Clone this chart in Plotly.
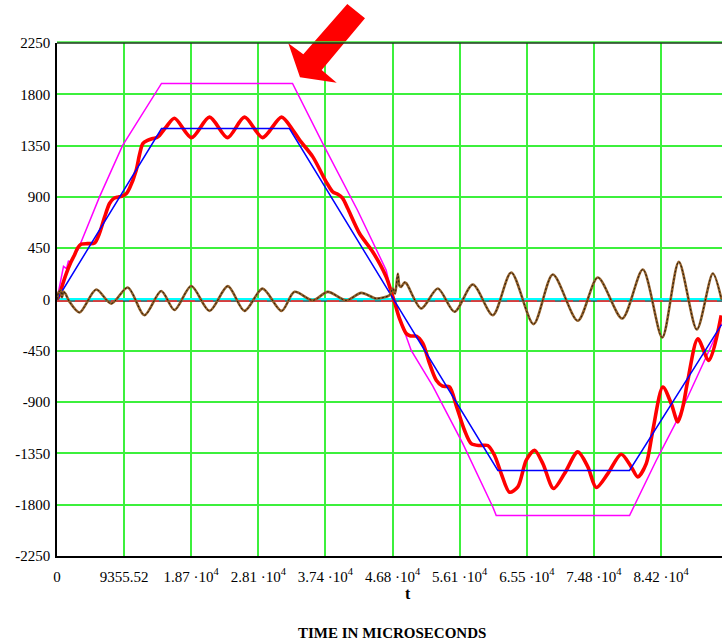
import plotly.graph_objects as go

# Time in microseconds; speed in rpm.

# Reference speed profile (trapezoid)
ref_t = [0, 14570, 32400, 61450, 79800, 92625]
ref_speed = [0, 1500, 1500, -1500, -1500, -220]

# Command signal (scaled trapezoid)
cmd_t = [0, 585, 906, 1324, 1603, 1882, 2202, 2899, 5924, 9130, 14566,
         32826, 34736, 37050, 41887, 44953, 45887, 46835, 49372, 52383,
         54711, 56565, 60747, 61221, 79801, 83523, 86311, 92458, 92625]
cmd_value = [0, 212, 290, 270, 340, 320, 373, 432, 900, 1350, 1895,
             1895, 1658, 1367, 783, 386, 257, 0, -447, -760,
             -1045, -1264, -1820, -1895, -1895, -1412, -1074, -243, -210]

# Measured motor speed
motor_t = [0, 350, 770, 1280, 1880, 2440, 2860, 3370, 4250, 5230, 5920,
           6620, 7320, 7880, 8470, 8990, 9650, 10110, 11040, 11500, 11960,
           12620, 13350, 13870, 14290, 15220, 16380, 18750, 21260, 23770,
           26140, 28650, 31290, 32870, 33800, 35660, 37520, 38440, 39140,
           39800, 40530, 42170, 44020, 45890, 46810, 47040, 47740, 48680,
           49280, 50070, 50990, 51920, 52860, 53740, 54710, 55640, 56800,
           57740, 58890, 60050, 60980, 61920, 63070, 64230, 65400, 66560,
           67720, 69210, 70740, 72590, 73990, 75160, 76780, 78640, 80040,
           80960, 82130, 83050, 84440, 85610, 86530, 87230, 87930, 89320,
           90860, 92580]
motor_speed = [0, 40, 130, 225, 320, 390, 450, 485, 490, 495, 580,
               720, 842, 885, 898, 905, 928, 976, 1134, 1270, 1368,
               1395, 1412, 1420, 1440, 1514, 1590, 1420, 1600, 1420,
               1600, 1420, 1600, 1486, 1400, 1251, 1032, 944, 923,
               890, 798, 579, 417, 198, 23, -21, -167, -299,
               -320, -322, -386, -561, -708, -760, -767, -928, -1147,
               -1264, -1281, -1281, -1366, -1527, -1690, -1644, -1410, -1322,
               -1439, -1658, -1527, -1337, -1468, -1649, -1527, -1357, -1468,
               -1556, -1439, -1147, -767, -913, -1074, -942, -708, -345,
               -535, -140]

# Speed error
err_t = [0, 209, 488, 697, 906, 1185, 1742, 3136, 5464, 7555, 9869,
         12197, 14524, 16378, 18706, 21257, 23808, 26136, 28645, 31293,
         33105, 35656, 37747, 40311, 42403, 44494, 46347, 46807, 47114,
         47504, 47741, 47978, 48438, 48717, 50766, 53080, 55408, 57959,
         60747, 63312, 66420, 69110, 72594, 75382, 78783, 81655, 84359,
         86673, 89182, 91412, 92625]
err_value = [0, 60, 80, 20, 70, 50, -20, -114, 87, -36, 105,
             -138, 75, -92, 118, -100, 117, -100, 95, -100,
             67, -8, 67, -8, 58, 9, 38, 96, 50,
             225, 120, 111, 150, 140, -79, 96, -108, 131,
             -138, 237, -216, 219, -187, 193, -167, 263, -333,
             330, -263, 228, 0]

zero_t = [0, 92690]
zero_value = [0, 0]
offset_value = [-14, -14]

x_tick_vals = [0, 9355.52, 18711.04, 28066.56, 37422.08, 46777.6,
               56133.12, 65488.64, 74844.16, 84199.68]
x_tick_text = ["0", "9355.52", "1.87 \u00b710<sup>4</sup>",
               "2.81 \u00b710<sup>4</sup>", "3.74 \u00b710<sup>4</sup>",
               "4.68 \u00b710<sup>4</sup>", "5.61 \u00b710<sup>4</sup>",
               "6.55 \u00b710<sup>4</sup>", "7.48 \u00b710<sup>4</sup>",
               "8.42 \u00b710<sup>4</sup>"]
y_tick_vals = [-2250, -1800, -1350, -900, -450, 0, 450, 900, 1350, 1800, 2250]
y_tick_text = ["-2250", "-1800", "-1350", "-900", "-450", "0",
               "450", "900", "1350", "1800", "2250"]

W, H = 722, 644
L, R, T, B = 57, 0, 43, 88
PW, PH = W - L - R, H - T - B

fig = go.Figure()

fig.add_trace(go.Scatter(x=zero_t, y=zero_value, mode="lines",
                         line=dict(color="#00ffff", width=3)))
fig.add_trace(go.Scatter(x=zero_t, y=offset_value, mode="lines",
                         line=dict(color="#333333", width=1.3)))
fig.add_trace(go.Scatter(x=zero_t, y=offset_value, mode="lines",
                         line=dict(color="#ff3030", width=1.5, dash="12px,6px")))
fig.add_trace(go.Scatter(x=cmd_t, y=cmd_value, mode="lines",
                         line=dict(color="#ff00ff", width=1.5)))
fig.add_trace(go.Scatter(x=motor_t, y=motor_speed, mode="lines",
                         line=dict(color="#ff0000", width=3.6, shape="spline",
                                   smoothing=0.8)))
fig.add_trace(go.Scatter(x=ref_t, y=ref_speed, mode="lines",
                         line=dict(color="#0000ff", width=1.5)))
fig.add_trace(go.Scatter(x=err_t, y=err_value, mode="lines",
                         line=dict(color="#93602a", width=2.6, shape="spline",
                                   smoothing=0.8)))
fig.add_trace(go.Scatter(x=err_t, y=err_value, mode="lines",
                         line=dict(color="rgba(0,0,0,0.75)", width=1,
                                   dash="2px,2px", shape="spline", smoothing=0.8)))


def px_to_paper(px, py):
    return (px - L) / PW, (H - B - py) / PH


# Red pointer arrow above the plot
arrow_px = [(347.3, 4), (365, 18.3), (321.7, 70), (336.7, 82.7),
            (300, 77.3), (288.3, 43.3), (303.3, 54.3)]
pts = [px_to_paper(x, y) for x, y in arrow_px]
path = "M " + " L ".join(f"{x:.5f},{y:.5f}" for x, y in pts) + " Z"

shapes = [
    dict(type="path", path=path, xref="paper", yref="paper",
         fillcolor="#ff0000", line=dict(width=0), layer="above"),
    dict(type="line", xref="paper", yref="paper", x0=0, x1=1,
         y0=1 + 1.0 / PH, y1=1 + 1.0 / PH, line=dict(color="#3cf03c", width=1.5)),
    dict(type="line", xref="paper", yref="paper", x0=0, x1=1,
         y0=1, y1=1, line=dict(color="#1c3a1c", width=1.5)),
]

serif = "Liberation Serif"

fig.update_layout(
    width=W, height=H,
    margin=dict(l=L, r=R, t=T, b=B, pad=0),
    paper_bgcolor="white", plot_bgcolor="white",
    showlegend=False,
    shapes=shapes,
    font=dict(family=serif, size=15, color="black"),
    annotations=[
        dict(text="<b>t</b>", x=(408 - L) / PW, y=(H - B - 593) / PH,
             xref="paper", yref="paper", showarrow=False,
             xanchor="center", yanchor="middle",
             font=dict(family=serif, size=16, color="black")),
        dict(text="<b>TIME IN MICROSECONDS</b>", x=(392 - L) / PW,
             y=(H - B - 633) / PH, xref="paper", yref="paper",
             showarrow=False, xanchor="center", yanchor="middle",
             font=dict(family=serif, size=15, color="black")),
    ],
)

fig.update_xaxes(
    range=[0, 92690], tickmode="array", tickvals=x_tick_vals,
    ticktext=x_tick_text, showgrid=True, gridcolor="#3cf03c", gridwidth=1.5,
    zeroline=False, showline=True, linecolor="black", linewidth=1.5,
    ticks="", ticklabelstandoff=6,
    tickfont=dict(family=serif, size=15, color="black"),
)
fig.update_yaxes(
    range=[-2250, 2250], tickmode="array", tickvals=y_tick_vals,
    ticktext=y_tick_text, showgrid=True, gridcolor="#3cf03c", gridwidth=1.5,
    zeroline=False, showline=True, linecolor="black", linewidth=1.5,
    ticks="", ticklabelstandoff=2,
    tickfont=dict(family=serif, size=15, color="black"),
)

fig.write_html("out.html", config={"displayModeBar": False})
